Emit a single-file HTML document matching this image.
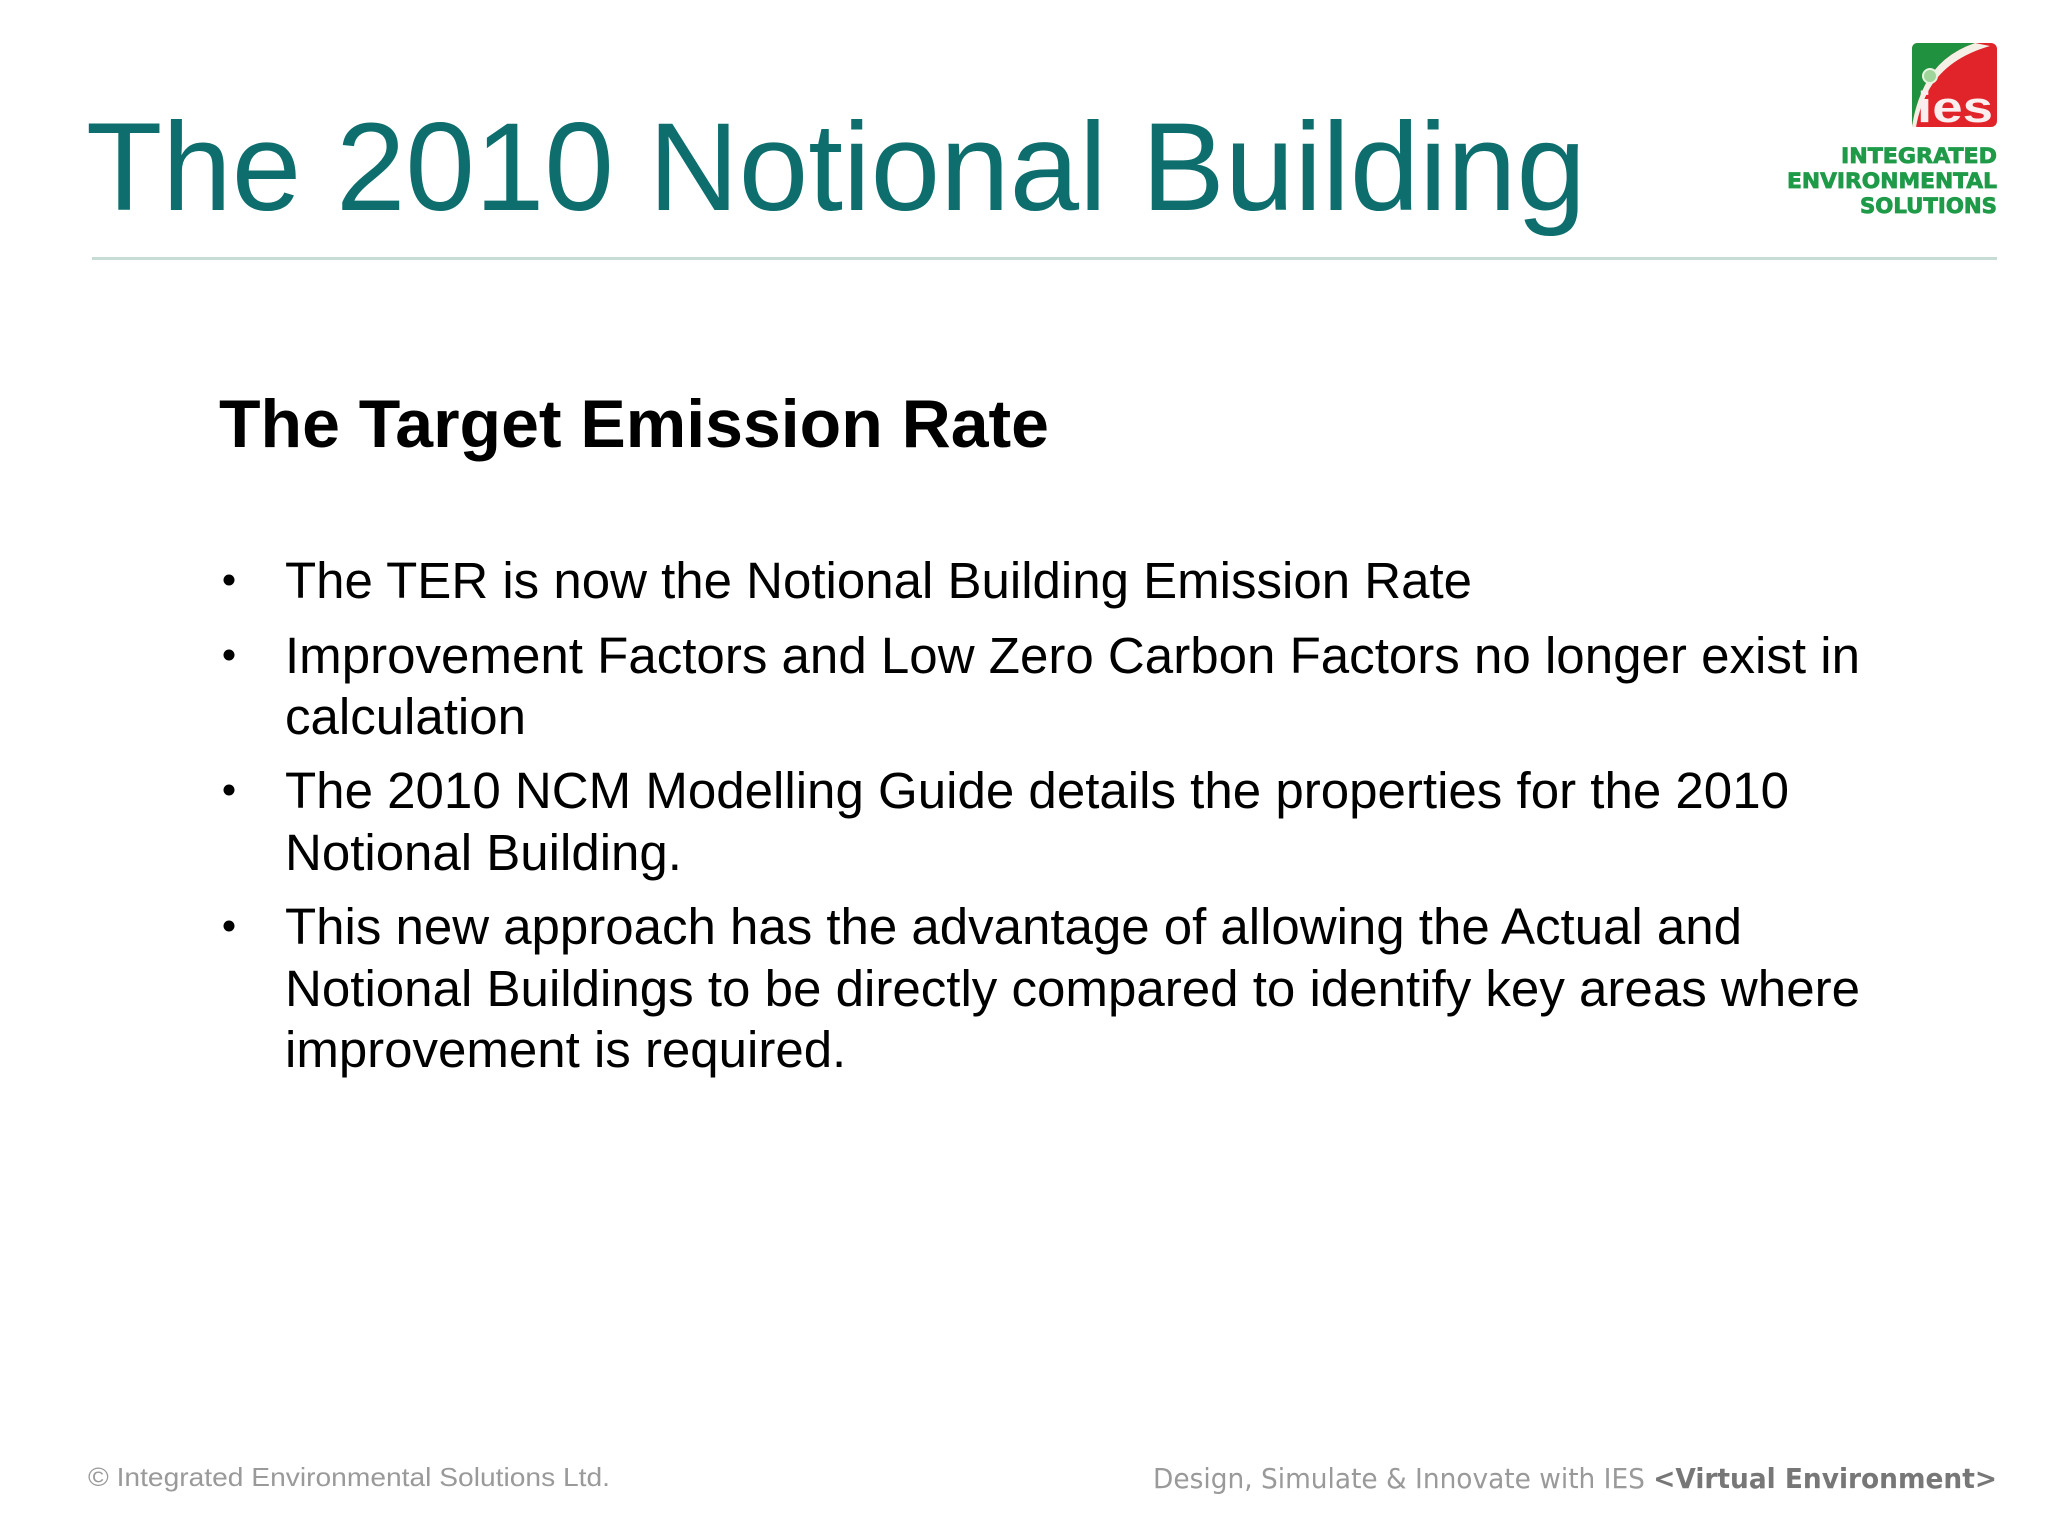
<!DOCTYPE html>
<html><head><meta charset="utf-8"><style>
html,body{margin:0;padding:0;background:#fff;}
body{width:2048px;height:1536px;position:relative;overflow:hidden;font-family:"Liberation Sans",Arial,sans-serif;}
</style></head><body>
<svg width="2048" height="1536" viewBox="0 0 2048 1536" style="position:absolute;left:0;top:0">
  <text x="86" y="210" font-family="Liberation Sans, sans-serif" font-size="125" fill="#0e6e6e" textLength="1500" lengthAdjust="spacingAndGlyphs">The 2010 Notional Building</text>
  <rect x="92" y="257" width="1905" height="3" fill="#c8dcd6"/>
  <g>
    <rect x="1912" y="43" width="85" height="84" rx="6" fill="#e1232a"/>
    <path d="M1918 43 H1975 Q1940 55 1925 85 Q1915 105 1912 127 V49 Q1912 43 1918 43Z" fill="#20913f"/>
    <path d="M1975 43 Q1940 55 1925 85 Q1915 105 1912 127 L1916 127 Q1920 105 1930 88 Q1948 58 1990 46 Z" fill="#f4f0e6"/>
    <circle cx="1930" cy="76" r="7" fill="#9fd49a" stroke="#e8f4e0" stroke-width="2"/>
    <text x="1955" y="122" font-family="Liberation Sans, sans-serif" font-weight="bold" font-size="44" fill="#fbeeee" text-anchor="middle" textLength="76" lengthAdjust="spacingAndGlyphs">ies</text>
    <text x="1997" y="163" font-family="DejaVu Sans, sans-serif" font-weight="bold" font-size="21" fill="#1f9a48" stroke="#1f9a48" stroke-width="0.8" text-anchor="end" textLength="156" lengthAdjust="spacingAndGlyphs">INTEGRATED</text>
    <text x="1997" y="188" font-family="DejaVu Sans, sans-serif" font-weight="bold" font-size="21" fill="#1f9a48" stroke="#1f9a48" stroke-width="0.8" text-anchor="end" textLength="210" lengthAdjust="spacingAndGlyphs">ENVIRONMENTAL</text>
    <text x="1997" y="213" font-family="DejaVu Sans, sans-serif" font-weight="bold" font-size="21" fill="#1f9a48" stroke="#1f9a48" stroke-width="0.8" text-anchor="end" textLength="137" lengthAdjust="spacingAndGlyphs">SOLUTIONS</text>
  </g>
  <text x="219" y="447" font-family="Liberation Sans, sans-serif" font-weight="bold" font-size="68" fill="#000" textLength="830" lengthAdjust="spacingAndGlyphs">The Target Emission Rate</text>
  <g font-family="Liberation Sans, sans-serif" font-size="51" fill="#000">
    <circle cx="229" cy="580" r="5.5"/>
    <text x="285" y="598" textLength="1187" lengthAdjust="spacingAndGlyphs">The TER is now the Notional Building Emission Rate</text>
    <circle cx="229" cy="655" r="5.5"/>
    <text x="285" y="673" textLength="1575" lengthAdjust="spacingAndGlyphs">Improvement Factors and Low Zero Carbon Factors no longer exist in</text>
    <text x="285" y="734">calculation</text>
    <circle cx="229" cy="790" r="5.5"/>
    <text x="285" y="808" textLength="1504" lengthAdjust="spacingAndGlyphs">The 2010 NCM Modelling Guide details the properties for the 2010</text>
    <text x="285" y="870">Notional Building.</text>
    <circle cx="229" cy="926" r="5.5"/>
    <text x="285" y="944" textLength="1457" lengthAdjust="spacingAndGlyphs">This new approach has the advantage of allowing the Actual and</text>
    <text x="285" y="1006" textLength="1575" lengthAdjust="spacingAndGlyphs">Notional Buildings to be directly compared to identify key areas where</text>
    <text x="285" y="1067">improvement is required.</text>
  </g>
  <text x="88" y="1486" font-family="Liberation Sans, sans-serif" font-size="26" fill="#9a9a9a" textLength="522" lengthAdjust="spacingAndGlyphs">© Integrated Environmental Solutions Ltd.</text>
  <text x="1153" y="1488" font-family="DejaVu Sans Condensed, DejaVu Sans, sans-serif" font-size="28" fill="#9a9a9a" textLength="844" lengthAdjust="spacingAndGlyphs">Design, Simulate &amp; Innovate with IES <tspan font-weight="bold" fill="#777">&lt;Virtual Environment&gt;</tspan></text>
</svg>
</body></html>
